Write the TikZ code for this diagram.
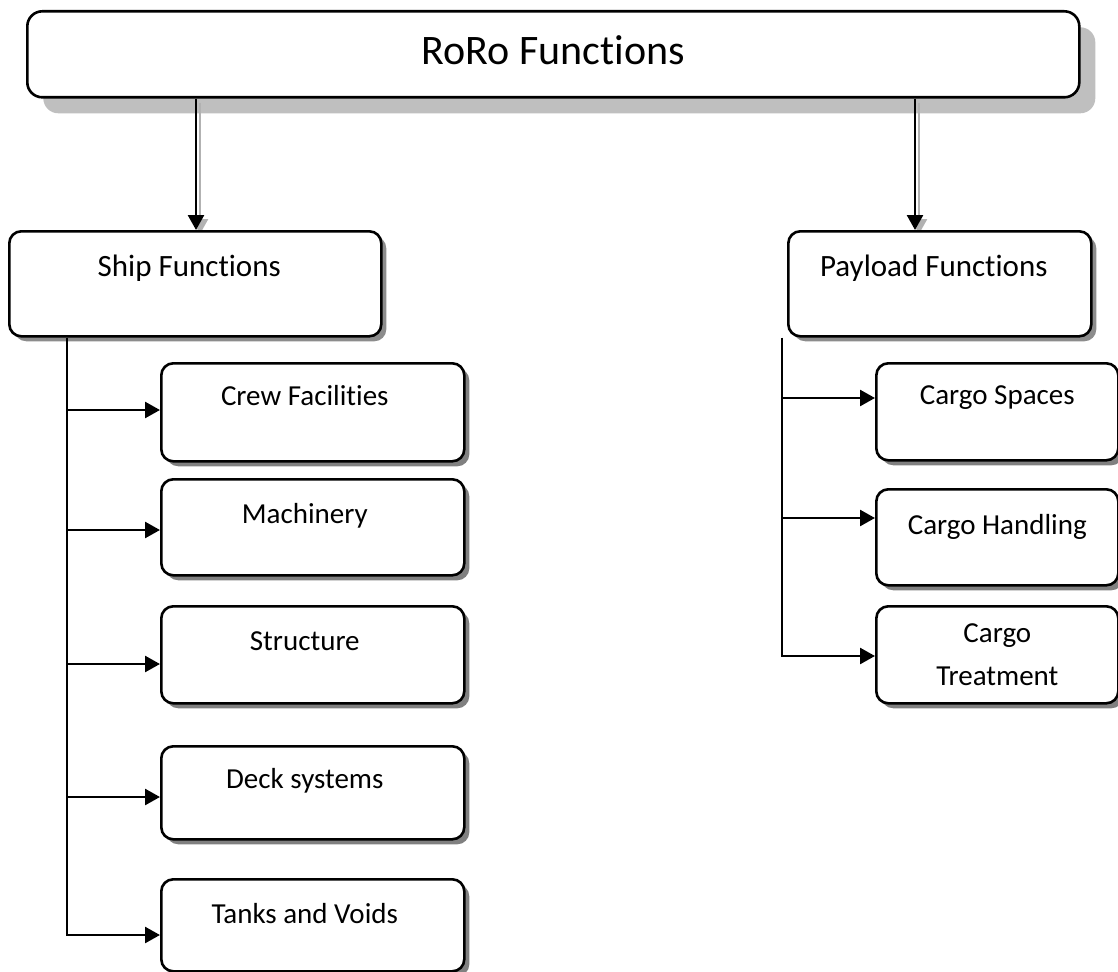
\documentclass[tikz,border=0pt]{standalone}
\usepackage{fontspec}
\setmainfont{Carlito}[Ligatures=NoCommon]
\usetikzlibrary{arrows.meta,shadows,calc}
\pgfdeclarelayer{back}
\pgfdeclarelayer{mid}
\pgfsetlayers{back,mid,main}
\begin{document}
\begin{tikzpicture}[x=1pt,y=-1pt,
  box/.style={draw, line width=2.6pt, rounded corners=12pt, fill=white,
    inner sep=0pt, anchor=north west},
  headbox/.style={box, drop shadow={shadow xshift=5pt, shadow yshift=-5pt,
    fill=black!45, opacity=1}, font=\fontsize{31}{37}\selectfont,
    execute at begin node={\hspace*{-12pt}}},
  leafbox/.style={box, drop shadow={shadow xshift=5pt, shadow yshift=-5pt,
    fill=black!50, opacity=1}, font=\fontsize{29}{43}\selectfont},
  leftleaf/.style={leafbox, execute at begin node={\hspace*{-16pt}}},
  rootbox/.style={box, rounded corners=15pt, drop shadow={shadow xshift=16pt,
    shadow yshift=-16pt, fill=black!25, opacity=1}, font=\fontsize{42}{50}\selectfont},
  arr/.style={line width=2.6pt, -{Triangle[length=15pt,width=16pt]}},
  arrshadow/.style={line width=2.6pt, draw=black!30, -{Triangle[length=15pt,width=16pt,fill=black!30]}}
]
\useasboundingbox (0,0) rectangle (1118,971);

% root of the tree
\begin{pgfonlayer}{back}
\node[rootbox, minimum width=1052pt, text height=53pt, text depth=33pt] (roro) at (26,10) {RoRo Functions};
\end{pgfonlayer}

% x positions of the two top connectors
\coordinate (xa) at (196,0);
\coordinate (xb) at (915,0);

% second level
\node[headbox, minimum width=372pt, text height=45pt, text depth=60pt] (ship) at (8,230) {Ship Functions};
\node[headbox, minimum width=303pt, text height=45pt, text depth=60pt] (payload) at (787,230) {Payload Functions};

% ship function leaves
\node[leftleaf, minimum width=303pt, text height=42pt, text depth=56pt] (crew) at (160,362) {Crew Facilities};
\node[leftleaf, minimum width=303pt, text height=44pt, text depth=52pt] (mach) at (160,478) {Machinery};
\node[leftleaf, minimum width=303pt, text height=44pt, text depth=53pt] (struct) at (160,605) {Structure};
\node[leftleaf, minimum width=303pt, text height=42pt, text depth=51pt] (deck) at (160,745) {Deck systems};
\node[leftleaf, minimum width=303pt, text height=44pt, text depth=48pt] (tanks) at (160,878) {Tanks and Voids};

% payload function leaves
\node[leafbox, minimum width=242pt, text height=41pt, text depth=56pt] (spaces) at (875,362) {Cargo Spaces};
\node[leafbox, minimum width=242pt, text height=45pt, text depth=51pt] (handling) at (875,488) {Cargo Handling};
\node[leafbox, minimum width=242pt, minimum height=97pt, align=center] (treat) at (875,605) {Cargo\\Treatment};

% connectors from the root, with their shadows
\begin{pgfonlayer}{mid}
\draw[arrshadow] ($(xa |- roro.south)+(4,4)$) -- ($(xa |- ship.north)+(4,4)$);
\draw[arrshadow] ($(xb |- roro.south)+(4,4)$) -- ($(xb |- payload.north)+(4,4)$);
\end{pgfonlayer}
\draw[arr] (xa |- roro.south) -- (xa |- ship.north);
\draw[arr] (xb |- roro.south) -- (xb |- payload.north);

% branch points on the left spine
\coordinate (l1) at (67,410);
\coordinate (l2) at (67,530);
\coordinate (l3) at (67,664);
\coordinate (l4) at (67,797);
\coordinate (l5) at (67,935);
\draw[arr] (l1 |- ship.south) -- (l5) -- (l5 -| tanks.west);
\draw[arr] (l1) -- (l1 -| crew.west);
\draw[arr] (l2) -- (l2 -| mach.west);
\draw[arr] (l3) -- (l3 -| struct.west);
\draw[arr] (l4) -- (l4 -| deck.west);

% branch points on the right spine
\coordinate (r1) at (782,398);
\coordinate (r2) at (782,518);
\coordinate (r3) at (782,656);
\draw[arr] (r1 |- payload.south) -- (r3) -- (r3 -| treat.west);
\draw[arr] (r1) -- (r1 -| spaces.west);
\draw[arr] (r2) -- (r2 -| handling.west);
\end{tikzpicture}
\end{document}
